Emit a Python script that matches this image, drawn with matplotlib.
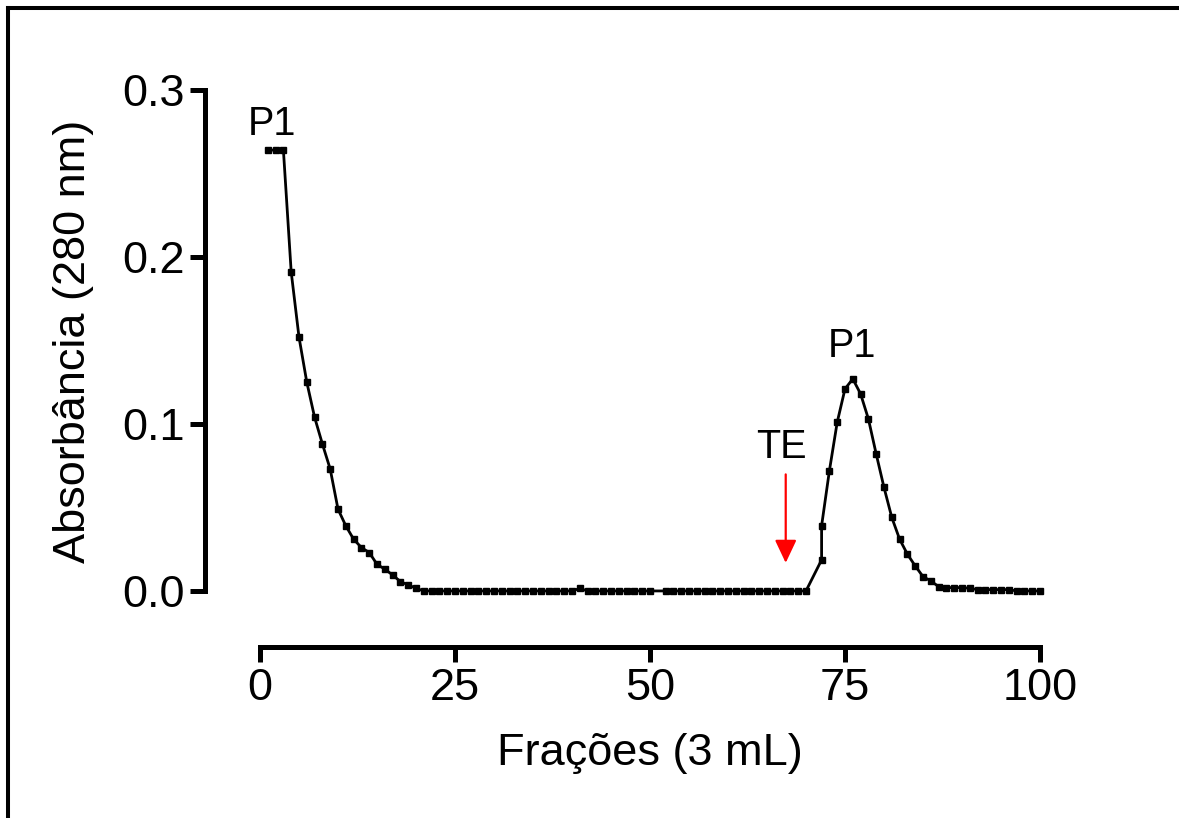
import matplotlib
matplotlib.use("Agg")
import matplotlib.pyplot as plt
import numpy as np
from matplotlib.lines import Line2D
from matplotlib.ticker import FixedLocator

plt.rcParams['font.family'] = ['Liberation Sans', 'DejaVu Sans']

# Elution profile: fraction number vs absorbance at 280 nm
fractions = [1, 2, 3, 4, 5, 6, 7, 8, 9, 10,
             11, 12, 13, 14, 15, 16, 17, 18, 19, 20,
             21, 22, 23, 24, 25, 26, 27, 28, 29, 30,
             31, 32, 33, 34, 35, 36, 37, 38, 39, 40,
             41, 42, 43, 44, 45, 46, 47, 48, 49, 50,
             52, 53, 54, 55, 56, 57, 58, 59, 60,
             61, 62, 63, 64, 65, 66, 67, 68, 69, 70,
             72, 72, 73, 74, 75, 76, 77, 78, 79, 80,
             81, 82, 83, 84, 85, 86, 87, 88, 89, 90,
             91, 92, 93, 94, 95, 96, 97, 98, 99, 100]
absorbance = [0.264, 0.264, 0.264, 0.191, 0.152, 0.125, 0.104, 0.088, 0.073, 0.049,
              0.039, 0.031, 0.026, 0.023, 0.016, 0.013, 0.0096, 0.0056, 0.0036, 0.0016,
              0.0, 0.0, 0.0, 0.0, 0.0, 0.0, 0.0, 0.0, 0.0, 0.0,
              0.0, 0.0, 0.0, 0.0, 0.0, 0.0, 0.0, 0.0, 0.0, 0.0,
              0.0015, 0.0, 0.0, 0.0, 0.0, 0.0, 0.0, 0.0, 0.0, 0.0,
              0.0, 0.0, 0.0, 0.0, 0.0, 0.0, 0.0, 0.0, 0.0,
              0.0, 0.0, 0.0, 0.0, 0.0, 0.0, 0.0, 0.0, 0.0, 0.0,
              0.0186, 0.039, 0.072, 0.101, 0.121, 0.127, 0.118, 0.103, 0.082, 0.062,
              0.044, 0.031, 0.022, 0.015, 0.0086, 0.006, 0.0026, 0.002, 0.002, 0.002,
              0.0016, 0.0008, 0.0008, 0.0008, 0.0008, 0.0008, 0.0, 0.0, 0.0, 0.0]

x_ticks = [0, 25, 50, 75, 100]
y_ticks = [0.0, 0.1, 0.2, 0.3]
y_tick_labels = ["0.0", "0.1", "0.2", "0.3"]

W, H = 1179, 818
fig = plt.figure(figsize=(W / 100, H / 100), dpi=100)

# axes box in pixels: spine at x=205, 0 -> 260 px, 100 -> 1040 px
px_per_unit = 7.8
x_left = -55 / px_per_unit
x_right = 102
ax_left_px, ax_right_px = 205, 260 + x_right * px_per_unit
ax_top_px, ax_bot_px = 90, 647
ax = fig.add_axes([ax_left_px / W, 1 - ax_bot_px / H,
                   (ax_right_px - ax_left_px) / W, (ax_bot_px - ax_top_px) / H])
ax.set_xlim(x_left, x_right)
ax.set_ylim(-(ax_bot_px - 591) / 1668, 0.3)

ax.plot(fractions, absorbance, color='black', lw=2.0, marker='s',
        markersize=4.4, markerfacecolor='black', markeredgecolor='black',
        clip_on=False, zorder=3)

# spines
for side in ('top', 'right'):
    ax.spines[side].set_visible(False)
ax.spines['left'].set_bounds(0, 0.3)
ax.spines['bottom'].set_bounds(0, 100)
for side in ('left', 'bottom'):
    ax.spines[side].set_linewidth(3.6)
    ax.spines[side].set_capstyle('projecting')

ax.set_xticks(x_ticks)
ax.set_xticklabels([str(v) for v in x_ticks])
ax.set_yticks(y_ticks)
ax.set_yticklabels(y_tick_labels)
# fine minor ticks kept inside the spine extents
ax.xaxis.set_minor_locator(FixedLocator(np.arange(1, 100, 1)))
ax.yaxis.set_minor_locator(FixedLocator(np.linspace(0, 0.3, 76)[1:-1]))

ax.tick_params(axis='both', which='major', length=10.8, width=3.6,
               labelsize=32.5, direction='out')
ax.tick_params(axis='x', which='major', pad=4)
ax.tick_params(axis='y', which='major', pad=3.6)
ax.tick_params(axis='both', which='minor', length=3.4, width=0.5,
               direction='inout', color='#777777')

ax.set_xlabel("Frações (3 mL)", fontsize=32.5, va='center')
ax.xaxis.set_label_coords((650 - ax_left_px) / (ax_right_px - ax_left_px),
                          (ax_bot_px - 754) / (ax_bot_px - ax_top_px))
ax.set_ylabel("Absorbância (280 nm)", fontsize=32.5, va='center')
ax.yaxis.set_label_coords((74 - ax_left_px) / (ax_right_px - ax_left_px),
                          (ax_bot_px - 341) / (ax_bot_px - ax_top_px))

# peak labels and elution-buffer arrow
ax.text(1.5, 0.273, "P1", fontsize=28.5, ha='center', va='baseline')
ax.text(75.9, 0.140, "P1", fontsize=28.5, ha='center', va='baseline')
ax.text(66.9, 0.0794, "TE", fontsize=28.5, ha='center', va='baseline')
ax.annotate("", xy=(67.4, 0.0168), xytext=(67.4, 0.0698),
            arrowprops=dict(arrowstyle='-|>,head_length=0.7,head_width=0.33',
                            color='red', lw=1.6, mutation_scale=20,
                            shrinkA=0, shrinkB=0))

# outer frame lines (top and left)
fig.add_artist(Line2D([8 / W, 8 / W], [0, 1 - 8 / H], transform=fig.transFigure,
                      color='black', lw=2.9, solid_capstyle='projecting'))
fig.add_artist(Line2D([8 / W, 1], [1 - 8 / H, 1 - 8 / H], transform=fig.transFigure,
                      color='black', lw=2.9, solid_capstyle='projecting'))

fig.savefig("out.png", dpi=100, facecolor='white')
